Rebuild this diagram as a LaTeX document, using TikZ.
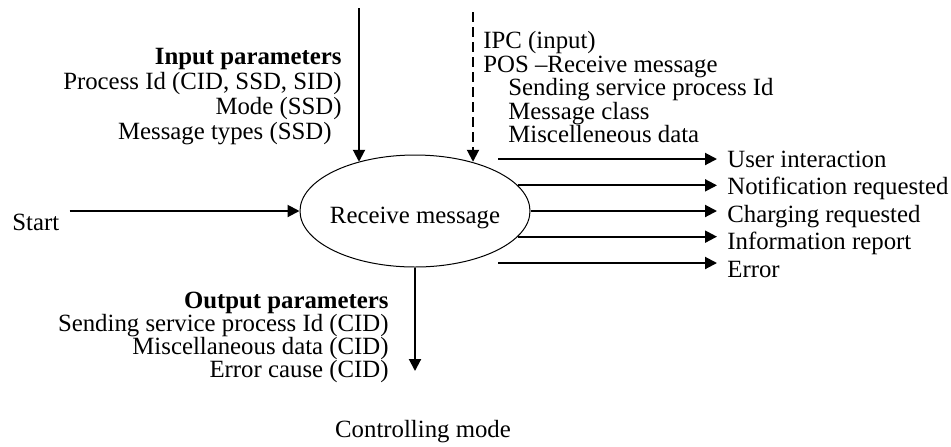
\documentclass[tikz,border=0pt]{standalone}
\usepackage{fontspec}
\setmainfont{Liberation Serif}
\usetikzlibrary{shapes.geometric,arrows.meta}
\tikzset{
  arr/.style={line width=1pt,-{Triangle[length=6pt,width=6pt]}},
  outlbl/.style={anchor=base west,inner xsep=5pt,inner ysep=0pt},
  parblock/.style={inner sep=0pt},
}
\begin{document}
\begin{tikzpicture}[x=0.5pt,y=-0.5pt,font=\fontsize{12.4}{14}\selectfont]
  \useasboundingbox (0,0) rectangle (951,446);
  \node[ellipse,draw,line width=0.5pt,minimum width=115pt,minimum height=56pt,
        inner xsep=-3pt,inner ysep=0pt,text height=12pt,text depth=0pt] (rm) at (415,211) {Receive message};
  \node[anchor=base west,inner xsep=5pt,inner ysep=0pt] (st) at (2,230) {Start};
  \draw[arr] (rm.west -| st.east) -- (rm.west);

  \node[parblock,anchor=north east,align=right,font=\fontsize{12.4}{12.5}\selectfont] (inp) at (342,48)
    {\textbf{Input parameters}\\Process Id (CID, SSD, SID)\\Mode (SSD)\\Message types (SSD)\hspace*{5pt}};
  \coordinate (in0) at (359,8);
  \draw[arr] (in0) -- (in0 |- rm.139);

  \node[parblock,anchor=north west,align=left,font=\fontsize{12.4}{11.75}\selectfont] (ipc) at (483,31)
    {IPC (input)\\POS \textendash Receive message\\\hspace*{12.5pt}Sending service process Id\\
     \hspace*{12.5pt}Message class\\\hspace*{12.5pt}Miscelleneous data};
  \coordinate (ipc0) at (473,12);
  \draw[arr,dash pattern=on 5pt off 2.5pt] (ipc0) -- (ipc0 |- rm.41);

  \node[outlbl] (ui) at (717,167) {User interaction};
  \node[outlbl] (nr) at (717,194.5) {Notification requested};
  \node[outlbl] (cr) at (717,222) {Charging requested};
  \node[outlbl] (ir) at (717,249.5) {Information report};
  \node[outlbl] (er) at (717,277) {Error};
  \coordinate (ui0) at (498,159);
  \coordinate (er0) at (498,263);
  \draw[arr] (ui0) -- (ui0 -| ui.west);
  \draw[arr] (rm.14) -- (rm.14 -| nr.west);
  \draw[arr] (rm.east) -- (rm.east -| cr.west);
  \draw[arr] (rm.-14) -- (rm.-14 -| ir.west);
  \draw[arr] (er0) -- (er0 -| er.west);

  \node[parblock,anchor=north east,align=right,font=\fontsize{12.4}{11.5}\selectfont] (outp) at (389,292)
    {\textbf{Output parameters}\\Sending service process Id (CID)\hspace*{3pt}\\Miscellaneous data (CID)\\Error cause (CID)};
  \coordinate (out1) at (416,371);
  \draw[arr] (rm.south) -- (rm.south |- out1);

  \node[anchor=base,inner sep=0pt] (cm) at (423,437) {Controlling mode};
\end{tikzpicture}
\end{document}
